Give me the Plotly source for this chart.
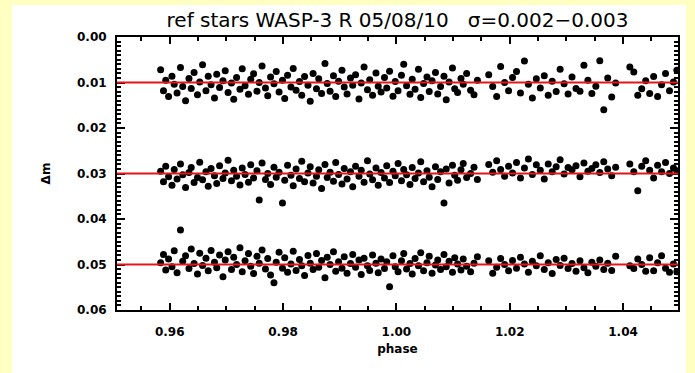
import plotly.graph_objects as go

phase = [
    0.9584, 0.9589, 0.9593, 0.9598, 0.9604, 0.9608, 0.9613, 0.9619, 0.9623, 0.9628,
    0.9634, 0.9638, 0.9643, 0.9649, 0.9653, 0.9658, 0.9664, 0.9668, 0.9673, 0.9679,
    0.9683, 0.9688, 0.9694, 0.9698, 0.9703, 0.9709, 0.9713, 0.9718, 0.9724, 0.9728,
    0.9733, 0.9739, 0.9743, 0.9748, 0.9754, 0.9758, 0.9763, 0.9769, 0.9773, 0.9778,
    0.9784, 0.9788, 0.9793, 0.9799, 0.9803, 0.9808, 0.9814, 0.9818, 0.9823, 0.9829,
    0.9833, 0.9838, 0.9844, 0.9848, 0.9853, 0.9859, 0.9863, 0.9868, 0.9874, 0.9878,
    0.9883, 0.9889, 0.9893, 0.9898, 0.9904, 0.9908, 0.9913, 0.9919, 0.9923, 0.9928,
    0.9934, 0.9938, 0.9943, 0.9949, 0.9953, 0.9958, 0.9964, 0.9968, 0.9973, 0.9979,
    0.9983, 0.9988, 0.9994, 0.9998, 1.0003, 1.0009, 1.0013, 1.0018, 1.0024, 1.0028,
    1.0033, 1.0039, 1.0043, 1.0048, 1.0054, 1.0058, 1.0063, 1.0069, 1.0073, 1.0078,
    1.0084, 1.0088, 1.0093, 1.0099, 1.0103, 1.0108, 1.0114, 1.0118, 1.0124, 1.0131,
    1.0137, 1.0143, 1.0163, 1.0170, 1.0177, 1.0184, 1.0191, 1.0198, 1.0205, 1.0212,
    1.0219, 1.0226, 1.0233, 1.0240, 1.0247, 1.0254, 1.0261, 1.0268, 1.0275, 1.0282,
    1.0289, 1.0296, 1.0303, 1.0310, 1.0317, 1.0324, 1.0331, 1.0338, 1.0345, 1.0352,
    1.0359, 1.0366, 1.0373, 1.0380, 1.0387, 1.0412, 1.0419, 1.0426, 1.0433, 1.0440,
    1.0447, 1.0454, 1.0461, 1.0468, 1.0475, 1.0482, 1.0489, 1.0495,
]

dm_star1 = [
    0.0072, 0.0118, 0.0095, 0.0131, 0.0086, 0.0104, 0.0123, 0.0067, 0.0109, 0.0140,
    0.0091, 0.0113, 0.0078, 0.0127, 0.0099, 0.0061, 0.0118, 0.0086, 0.0105, 0.0134,
    0.0082, 0.0111, 0.0096, 0.0074, 0.0122, 0.0101, 0.0137, 0.0089, 0.0115, 0.0070,
    0.0107, 0.0126, 0.0093, 0.0081, 0.0119, 0.0100, 0.0064, 0.0112, 0.0129, 0.0088,
    0.0103, 0.0076, 0.0121, 0.0095, 0.0135, 0.0084, 0.0110, 0.0069, 0.0117, 0.0098,
    0.0128, 0.0087, 0.0106, 0.0141, 0.0080, 0.0114, 0.0092, 0.0124, 0.0058, 0.0102,
    0.0119, 0.0085, 0.0131, 0.0097, 0.0073, 0.0110, 0.0125, 0.0090, 0.0106, 0.0083,
    0.0136, 0.0101, 0.0066, 0.0116, 0.0094, 0.0128, 0.0079, 0.0108, 0.0121, 0.0089,
    0.0112, 0.0075, 0.0130, 0.0098, 0.0118, 0.0084, 0.0060, 0.0107, 0.0126, 0.0093,
    0.0115, 0.0071, 0.0133, 0.0102, 0.0088, 0.0120, 0.0096, 0.0078, 0.0125, 0.0109,
    0.0086, 0.0138, 0.0099, 0.0068, 0.0114, 0.0122, 0.0091, 0.0104, 0.0080, 0.0117,
    0.0127, 0.0095, 0.0083, 0.0109, 0.0131, 0.0065, 0.0100, 0.0118, 0.0089, 0.0076,
    0.0123, 0.0053, 0.0104, 0.0134, 0.0092, 0.0112, 0.0085, 0.0128, 0.0097, 0.0120,
    0.0071, 0.0103, 0.0125, 0.0088, 0.0113, 0.0119, 0.0062, 0.0095, 0.0124, 0.0108,
    0.0052, 0.0160, 0.0090, 0.0132, 0.0101, 0.0066, 0.0077, 0.0128, 0.0114, 0.0096,
    0.0124, 0.0087, 0.0131, 0.0105, 0.0080, 0.0118, 0.0099, 0.0073,
]

dm_star2 = [
    0.0295, 0.0318, 0.0284, 0.0307, 0.0326, 0.0291, 0.0312, 0.0279, 0.0303, 0.0331,
    0.0298, 0.0287, 0.0320, 0.0309, 0.0275, 0.0314, 0.0296, 0.0328, 0.0289, 0.0305,
    0.0322, 0.0283, 0.0311, 0.0299, 0.0271, 0.0316, 0.0293, 0.0306, 0.0325, 0.0288,
    0.0302, 0.0319, 0.0281, 0.0310, 0.0294, 0.0358, 0.0277, 0.0313, 0.0300, 0.0324,
    0.0286, 0.0308, 0.0297, 0.0365, 0.0315, 0.0282, 0.0304, 0.0327, 0.0290, 0.0311,
    0.0273, 0.0318, 0.0299, 0.0285, 0.0321, 0.0306, 0.0292, 0.0333, 0.0280, 0.0309,
    0.0297, 0.0317, 0.0276, 0.0302, 0.0323, 0.0289, 0.0312, 0.0296, 0.0329, 0.0284,
    0.0306, 0.0293, 0.0319, 0.0272, 0.0301, 0.0314, 0.0288, 0.0326, 0.0298, 0.0310,
    0.0283, 0.0320, 0.0295, 0.0305, 0.0278, 0.0316, 0.0291, 0.0303, 0.0324, 0.0287,
    0.0311, 0.0299, 0.0274, 0.0318, 0.0294, 0.0308, 0.0329, 0.0285, 0.0313, 0.0296,
    0.0365, 0.0290, 0.0321, 0.0282, 0.0304, 0.0315, 0.0292, 0.0278, 0.0309, 0.0300,
    0.0286, 0.0313, 0.0280, 0.0297, 0.0272, 0.0291, 0.0306, 0.0284, 0.0299, 0.0276,
    0.0310, 0.0288, 0.0268, 0.0302, 0.0281, 0.0293, 0.0312, 0.0279, 0.0296, 0.0285,
    0.0270, 0.0301, 0.0287, 0.0292, 0.0283, 0.0307, 0.0277, 0.0295, 0.0289, 0.0281,
    0.0298, 0.0274, 0.0290, 0.0305, 0.0286, 0.0279, 0.0296, 0.0338, 0.0284, 0.0272,
    0.0293, 0.0310, 0.0282, 0.0296, 0.0276, 0.0300, 0.0288, 0.0294,
]

dm_star3 = [
    0.0496, 0.0478, 0.0512, 0.0488, 0.0505, 0.0470, 0.0518, 0.0424, 0.0493, 0.0481,
    0.0509, 0.0466, 0.0498, 0.0521, 0.0475, 0.0502, 0.0486, 0.0514, 0.0469, 0.0495,
    0.0507, 0.0479, 0.0527, 0.0490, 0.0472, 0.0511, 0.0484, 0.0500, 0.0463, 0.0516,
    0.0492, 0.0476, 0.0504, 0.0520, 0.0482, 0.0497, 0.0468, 0.0510, 0.0487, 0.0523,
    0.0540, 0.0495, 0.0473, 0.0508, 0.0485, 0.0517, 0.0499, 0.0471, 0.0513, 0.0489,
    0.0503, 0.0524, 0.0480, 0.0497, 0.0511, 0.0476, 0.0506, 0.0491, 0.0529, 0.0484,
    0.0500, 0.0472, 0.0515, 0.0494, 0.0508, 0.0483, 0.0519, 0.0498, 0.0478, 0.0506,
    0.0490, 0.0522, 0.0486, 0.0503, 0.0513, 0.0479, 0.0497, 0.0518, 0.0488, 0.0509,
    0.0494, 0.0549, 0.0481, 0.0505, 0.0516, 0.0492, 0.0476, 0.0510, 0.0498, 0.0521,
    0.0487, 0.0503, 0.0474, 0.0514, 0.0496, 0.0482, 0.0519, 0.0501, 0.0490, 0.0511,
    0.0478, 0.0505, 0.0493, 0.0517, 0.0485, 0.0499, 0.0512, 0.0488, 0.0504, 0.0516,
    0.0497, 0.0483, 0.0492, 0.0519, 0.0506, 0.0487, 0.0500, 0.0514, 0.0491, 0.0508,
    0.0484, 0.0499, 0.0517, 0.0493, 0.0503, 0.0481, 0.0511, 0.0496, 0.0520, 0.0489,
    0.0502, 0.0486, 0.0509, 0.0498, 0.0515, 0.0492, 0.0507, 0.0518, 0.0495, 0.0504,
    0.0490, 0.0511, 0.0497, 0.0513, 0.0482, 0.0503, 0.0509, 0.0488, 0.0500, 0.0515,
    0.0485, 0.0514, 0.0496, 0.0481, 0.0508, 0.0517, 0.0499, 0.0516,
]

ref_levels = [0.01, 0.03, 0.05]
x_range = [0.9507, 1.0497]
y_range = [0.06, 0.0]
x_ticks = [0.96, 0.98, 1.00, 1.02, 1.04]
y_ticks = [0.00, 0.01, 0.02, 0.03, 0.04, 0.05, 0.06]

title_text = "ref stars WASP-3 R 05/08/10   \u03c3=0.002\u22120.003"

fig = go.Figure()

W, H = 695, 373
ml, mr, mt, mb = 117, 17, 37, 63
pw, ph = W - ml - mr, H - mt - mb

def px_x(p):
    return (p - ml) / pw

def px_y(p):
    return (H - mb - p) / ph

shapes = [
    dict(type="rect", xref="paper", yref="paper",
         x0=px_x(12), x1=px_x(686), y0=px_y(373), y1=px_y(5),
         fillcolor="white", line=dict(width=0), layer="below"),
]
for lvl in ref_levels:
    shapes.append(dict(type="line", xref="paper", yref="y", x0=0, x1=1,
                       y0=lvl, y1=lvl, line=dict(color="#E3161B", width=2),
                       layer="above"))

for dm in (dm_star1, dm_star2, dm_star3):
    fig.add_trace(go.Scatter(
        x=phase, y=dm, mode="markers",
        marker=dict(color="black", size=7, symbol="circle", line=dict(width=0)),
        showlegend=False, hoverinfo="skip", cliponaxis=True,
    ))

tickfont = dict(family="DejaVu Sans", size=12, color="black", weight="bold")

fig.update_layout(
    width=W, height=H,
    margin=dict(l=ml, r=mr, t=mt, b=mb, pad=0),
    paper_bgcolor="#FFFFC2",
    plot_bgcolor="white",
    shapes=shapes,
    title=dict(text=title_text, x=(ml + pw / 2) / W, xanchor="center",
               y=1 - 20 / H, yanchor="middle",
               font=dict(family="DejaVu Sans", size=20, color="black")),
    xaxis=dict(
        range=x_range, tickvals=x_ticks, ticktext=[f"{v:.2f}" for v in x_ticks],
        showgrid=False, zeroline=False, showline=True, linecolor="black",
        linewidth=2, mirror="ticks", ticks="inside", ticklen=7, tickwidth=2,
        tickcolor="black", tickfont=tickfont, ticklabelstandoff=10,
        minor=dict(dtick=0.005, tick0=0.95, ticks="inside", ticklen=4,
                   tickwidth=2, tickcolor="black", showgrid=False),
        title=dict(text="<b>phase</b>", standoff=6,
                   font=dict(family="DejaVu Sans", size=12, color="black")),
    ),
    yaxis=dict(
        range=y_range, tickvals=y_ticks, ticktext=[f"{v:.2f}" for v in y_ticks],
        showgrid=False, zeroline=False, showline=True, linecolor="black",
        linewidth=2, mirror="ticks", ticks="inside", ticklen=8, tickwidth=2,
        tickcolor="black", tickfont=tickfont, ticklabelstandoff=6,
        minor=dict(dtick=0.001, tick0=0.0, ticks="inside", ticklen=4,
                   tickwidth=2, tickcolor="black", showgrid=False),
        title=dict(text="<b>\u0394m</b>", standoff=24,
                   font=dict(family="DejaVu Sans", size=12, color="black")),
    ),
)

fig.write_html("out.html")
